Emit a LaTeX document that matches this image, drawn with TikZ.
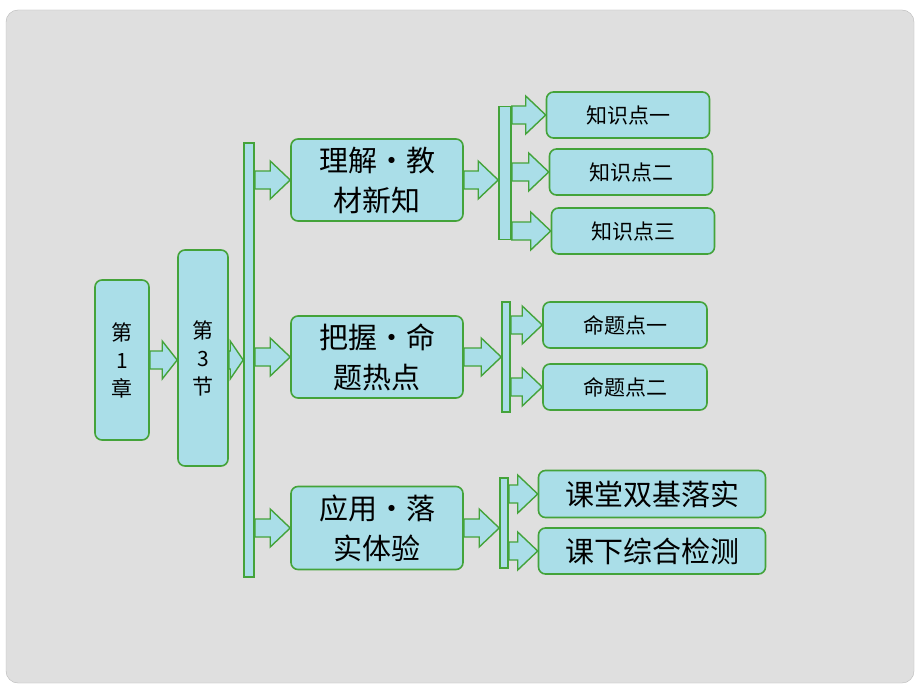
\documentclass[tikz,border=0pt]{standalone}
\usepackage{fontspec}
\setmainfont{Noto Sans CJK SC}
\usetikzlibrary{calc}

\definecolor{boxfill}{RGB}{170,222,232}
\definecolor{boxline}{RGB}{68,163,58}
\definecolor{bggray}{RGB}{223,223,223}
\definecolor{bgline}{RGB}{185,185,185}

% block arrow from a point to the tip at a node anchor (optional head length)
\newcommand{\blockarrow}[3][20pt]{%
  \draw[flow] let \p1=(#2), \p2=(#3) in
    (\x1,\y1+9pt) -- (\x2-#1,\y1+9pt) -- (\x2-#1,\y1+19pt) -- (\x2,\y1)
    -- (\x2-#1,\y1-19pt) -- (\x2-#1,\y1-9pt) -- (\x1,\y1-9pt) -- cycle;}

\begin{document}
\begin{tikzpicture}[x=1pt, y=-1pt,
    box/.style={draw=boxline, fill=boxfill, line width=1.6pt, rounded corners=7pt,
        inner sep=0pt, align=center},
    barbox/.style={draw=boxline, fill=boxfill, line width=1.6pt, inner sep=0pt},
    flow/.style={draw=boxline, fill=boxfill, line width=1.4pt},
    big/.style={font=\fontsize{29}{40}\selectfont},
    small/.style={font=\fontsize{21}{28}\selectfont}
]
% background
\fill[white] (0,0) rectangle (920,690);
\useasboundingbox (0,0) rectangle (920,690);
\draw[draw=bgline, fill=bggray, rounded corners=12pt] (6,10) rectangle (914,683);

% chapter, section and main bar
\node[box, small, minimum width=54, minimum height=160] (chap) at (122,360) {第\\1\\章};
\node[box, small, minimum width=50, minimum height=216] (sect) at (203,358) {第\\3\\节};
\node[barbox, minimum width=10, minimum height=434] (mainbar) at (249,360) {};

% topics
\node[box, big, minimum width=172, minimum height=82] (learn) at (377,180) {理解・教\\材新知};
\node[box, big, minimum width=172, minimum height=82] (grasp) at (377,357) {把握・命\\题热点};
\node[box, big, minimum width=172, minimum height=83] (apply) at (377,528) {应用・落\\实体验};

% sub bars
\node[barbox, minimum width=12, minimum height=133] (learnbar) at (505,173) {};
\node[barbox, minimum width=8, minimum height=110] (graspbar) at (506,357) {};
\node[barbox, minimum width=8, minimum height=90] (applybar) at (504,523) {};

% leaves
\node[box, small, minimum width=163, minimum height=46] (know1) at (628,115) {知识点一};
\node[box, small, minimum width=163, minimum height=46] (know2) at (631,172) {知识点二};
\node[box, small, minimum width=163, minimum height=46] (know3) at (633,231) {知识点三};
\node[box, small, minimum width=164, minimum height=46] (prop1) at (625,325) {命题点一};
\node[box, small, minimum width=164, minimum height=46] (prop2) at (625,387) {命题点二};
\node[box, big, minimum width=227, minimum height=47] (test1) at (652,494) {课堂双基落实};
\node[box, big, minimum width=227, minimum height=46] (test2) at (652,551) {课下综合检测};

% arrows
\blockarrow[15pt]{chap.east}{sect.west |- chap.east}
\blockarrow[13pt]{sect.east |- chap.east}{mainbar.west |- chap.east}
\blockarrow{mainbar.east |- learn.west}{learn.west}
\blockarrow{mainbar.east |- grasp.west}{grasp.west}
\blockarrow{mainbar.east |- apply.west}{apply.west}

\blockarrow{learn.east}{learnbar.west |- learn.east}
\blockarrow{grasp.east}{graspbar.west |- grasp.east}
\blockarrow{apply.east}{applybar.west |- apply.east}

\blockarrow{learnbar.east |- know1.west}{know1.west}
\blockarrow{learnbar.east |- know2.west}{know2.west}
\blockarrow{learnbar.east |- know3.west}{know3.west}
\blockarrow{graspbar.east |- prop1.west}{prop1.west}
\blockarrow{graspbar.east |- prop2.west}{prop2.west}
\blockarrow{applybar.east |- test1.west}{test1.west}
\blockarrow{applybar.east |- test2.west}{test2.west}

\end{tikzpicture}
\end{document}
